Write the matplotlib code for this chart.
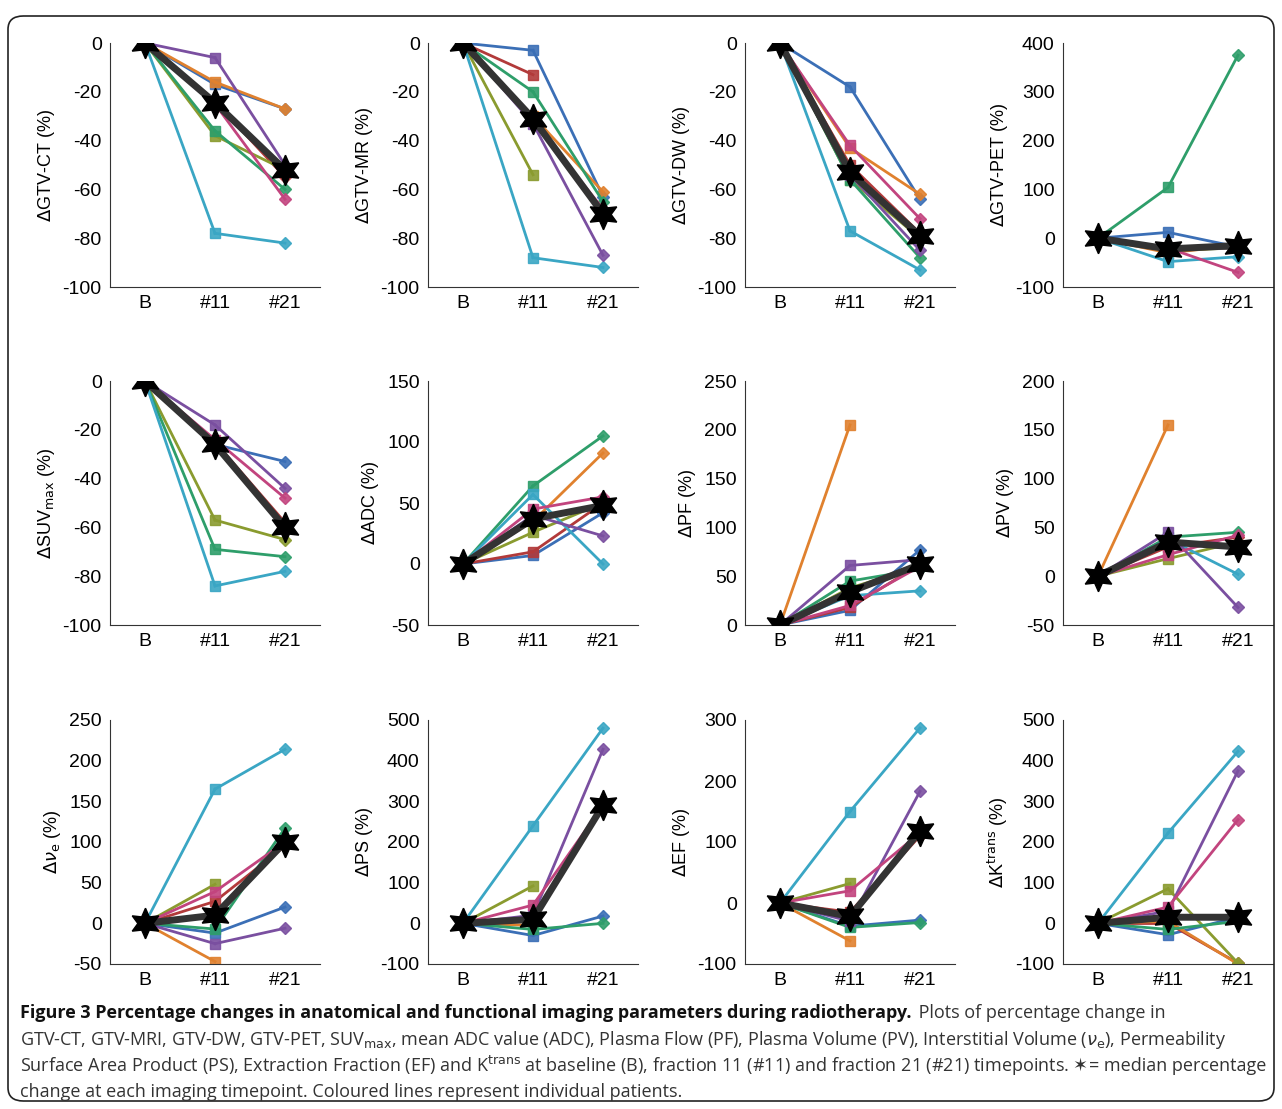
import numpy as np
import matplotlib.pyplot as plt
from matplotlib.patches import FancyBboxPatch

plt.rcParams['font.family'] = ['Liberation Sans', 'DejaVu Sans']
plt.rcParams['axes.unicode_minus'] = False

nan = np.nan
timepoints = ['B', '#11', '#21']
patient_colors = ['#3b6fb6', '#b23a3a', '#e0812e', '#8a9b2f', '#2e9e6a', '#3aa6c4', '#7a4fa0', '#c2447e']
# patient order: blue, red, orange, olive, green, cyan, purple, magenta ; values at #11, #21 (B = 0)
gtv_ct = [[-17, -27], [-24, -55], [-16, -27], [-38, -52], [-36, -60], [-78, -82], [-6, -50], [-25, -64]]
gtv_mr = [[-3, -63], [-13, nan], [-30, -61], [-54, nan], [-20, -65], [-88, -92], [-33, -87], [-32, -68]]
gtv_dw = [[-18, -64], [-50, -78], [-43, -62], [-56, -80], [-56, -88], [-77, -93], [-54, -85], [-42, -72]]
gtv_pet = [[12, -18], [-20, -15], [-30, -15], [-25, -20], [104, 375], [-48, -38], [-22, -20], [-20, -70]]
suv = [[-26, -33], [-25, -58], [-26, -60], [-57, -65], [-69, -72], [-84, -78], [-18, -44], [-24, -48]]
adc = [[7, 42], [10, 50], [35, 91], [26, 50], [64, 105], [57, 0], [40, 23], [45, 55]]
pf = [[15, 77], [18, 62], [205, nan], [38, 60], [45, 57], [30, 35], [61, 67], [20, 60]]
pv = [[35, 30], [30, 40], [155, nan], [18, 35], [40, 45], [38, 2], [45, -32], [22, 42]]
ve = [[-12, 20], [27, 95], [-47, nan], [48, nan], [-7, 117], [165, 214], [-25, -6], [39, 100]]
ps = [[-30, 18], [5, 285], [-5, nan], [92, nan], [-15, 0], [240, 480], [20, 428], [45, 290]]
ef = [[-38, -28], [-15, 110], [-62, nan], [32, nan], [-40, -32], [150, 287], [-30, 183], [20, 115]]
ktrans = [[-28, 15], [0, -98], [5, -100], [85, -98], [-15, 5], [222, 423], [30, 375], [40, 255]]

medians = [[-24.5, -52], [-31, -70], [-53, -79], [-22, -15], [-26, -60], [37, 48],
           [34, 62], [35, 30], [10, 100], [10, 290], [-22, 118], [15, 15]]
panels = [gtv_ct, gtv_mr, gtv_dw, gtv_pet, suv, adc, pf, pv, ve, ps, ef, ktrans]
ylabels = [r'$\Delta$GTV-CT (%)', r'$\Delta$GTV-MR (%)', r'$\Delta$GTV-DW (%)', r'$\Delta$GTV-PET (%)',
           r'$\Delta$SUV$_{\mathrm{max}}$ (%)', r'$\Delta$ADC (%)', r'$\Delta$PF (%)', r'$\Delta$PV (%)',
           r'$\Delta\nu_{\mathrm{e}}$ (%)', r'$\Delta$PS (%)', r'$\Delta$EF (%)', r'$\Delta$K$^{\mathrm{trans}}$ (%)']
ylims = [(-100, 0, 20), (-100, 0, 20), (-100, 0, 20), (-100, 400, 100),
         (-100, 0, 20), (-50, 150, 50), (0, 250, 50), (-50, 200, 50),
         (-50, 250, 50), (-100, 500, 100), (-100, 300, 100), (-100, 500, 100)]

W, H = 1282, 1109
fig = plt.figure(figsize=(W / 100, H / 100), dpi=100)
fig.patches.append(FancyBboxPatch((8 / W, 8 / H), 1 - 16 / W, 1 - 24 / H,
                                  boxstyle='round,pad=0,rounding_size=0.012',
                                  transform=fig.transFigure, fill=False, ec='#222222', lw=1.2))
col_x = [110, 428, 745, 1063]
row_top = [43, 381, 720]
aw, ah = 210, 244
x = np.arange(1, 4)
for i, data in enumerate(panels):
    r, c = divmod(i, 4)
    ax = fig.add_axes([col_x[c] / W, 1 - (row_top[r] + ah) / H, aw / W, ah / H])
    for color, (v11, v21) in zip(patient_colors, data):
        ax.plot(x[:2], [0, v11], color=color, lw=2)
        if not np.isnan(v21):
            ax.plot(x[1:], [v11, v21], color=color, lw=2)
        ax.plot(2, v11, 's', color=color, ms=7, mec=color, alpha=0.9)
        if not np.isnan(v21):
            ax.plot(3, v21, 'D', color=color, ms=6.5, alpha=0.9)
    med = [0] + medians[i]
    ax.plot(x, med, color='#333333', lw=5, zorder=5)
    ax.plot(x, med, ls='none', marker=(6, 1, 0), color='black', ms=22, zorder=6)
    lo, hi, step = ylims[i]
    ax.set_ylim(lo, hi)
    ax.set_yticks(np.arange(lo, hi + 1, step))
    ax.set_xlim(0.5, 3.5)
    ax.set_xticks(x)
    ax.set_xticklabels(timepoints)
    ax.spines['top'].set_visible(False)
    ax.spines['right'].set_visible(False)
    ax.tick_params(labelsize=14, length=0, pad=6)
    ax.set_ylabel(ylabels[i], fontsize=13)
    for s in ax.spines.values():
        s.set_color('#333333')

cap_font = ['Open Sans', 'DejaVu Sans']
fs = 13.0
fig.canvas.draw()
renderer = fig.canvas.get_renderer()


def run(parts, y):
    # draw consecutive text pieces on one line
    xpos = 20
    for txt, kw in parts:
        kw = {'color': '#333333', 'family': cap_font, **kw}
        t = fig.text(xpos / W, 1 - y / H, txt, fontsize=fs, va='center', **kw)
        xpos = t.get_window_extent(renderer).x1 + 2


run([('Figure 3 Percentage changes in anatomical and functional imaging parameters during radiotherapy.',
      dict(fontweight='bold', color='#111111')),
     (' Plots of percentage change in', {})], 1013)
run([(r'GTV-CT, GTV-MRI, GTV-DW, GTV-PET, SUV$_{\mathrm{max}}$, mean ADC value (ADC), Plasma Flow (PF), Plasma Volume (PV), Interstitial Volume ($\nu_{\mathrm{e}}$), Permeability',
      {})], 1040)
run([(r'Surface Area Product (PS), Extraction Fraction (EF) and K$^{\mathrm{trans}}$ at baseline (B), fraction 11 (#11) and fraction 21 (#21) timepoints. ',
      {}),
     ('\u2736', dict(family=['DejaVu Sans'])),
     ('= median percentage', {})], 1066)
run([('change at each imaging timepoint. Coloured lines represent individual patients.', {})], 1092)

fig.savefig('out.png', dpi=100)
